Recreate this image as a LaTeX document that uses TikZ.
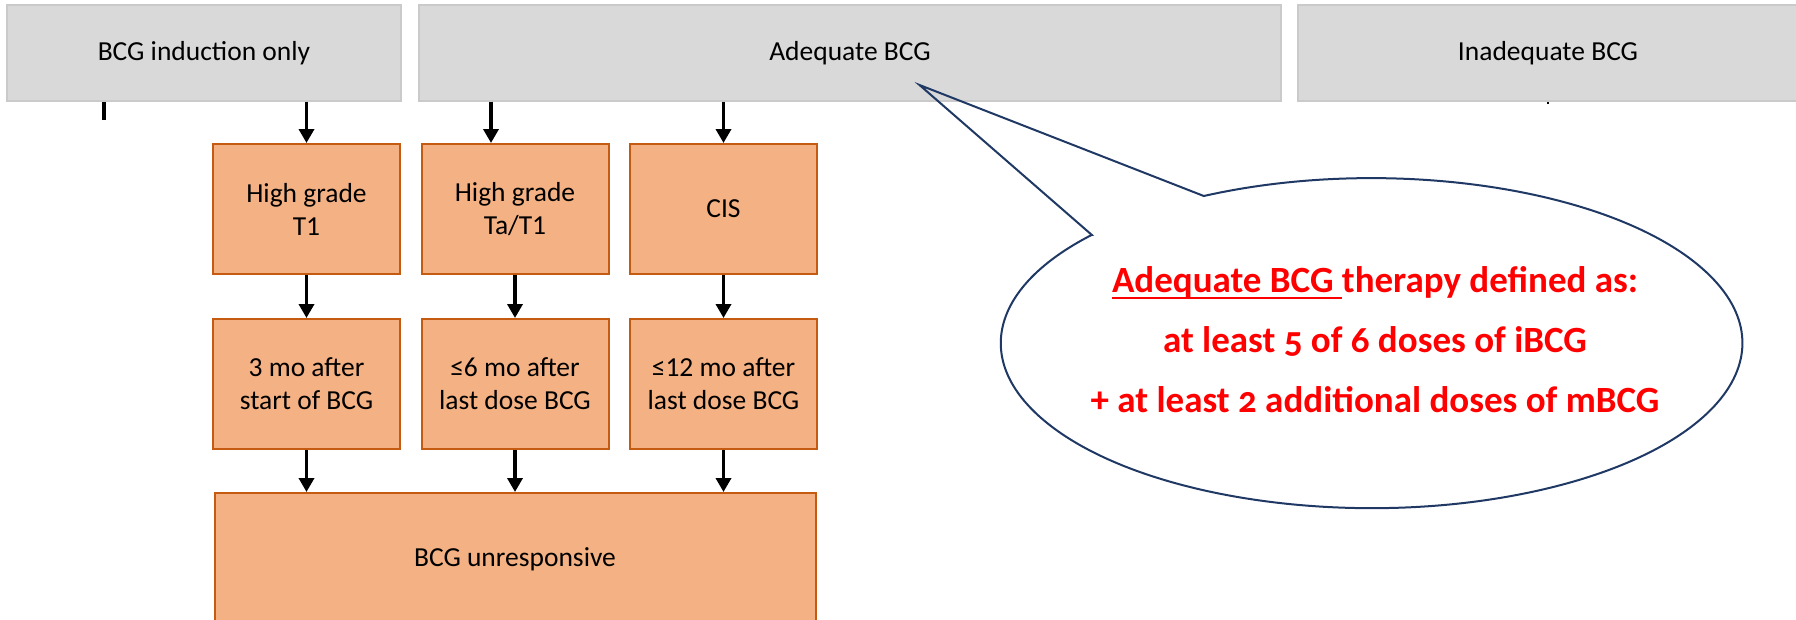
\documentclass[tikz,border=0pt]{standalone}
\usepackage{fontspec}
\setmainfont{Carlito}
\newfontfamily\notefont[Numbers=OldStyle]{Carlito}
\usetikzlibrary{positioning,arrows.meta}

\definecolor{boxgrey}{HTML}{D9D9D9}
\definecolor{greyline}{HTML}{CACACA}
\definecolor{boxorange}{HTML}{F4B183}
\definecolor{orangeline}{HTML}{C55A11}
\definecolor{navyline}{HTML}{1F3864}
\newlength{\redlinewidth}
\newcommand{\redline}[1]{\settowidth{\redlinewidth}{#1}%
  \rlap{\rule[-6pt]{\redlinewidth}{2.2pt}}#1}

\begin{document}
\begin{tikzpicture}[x=1pt,y=-1pt,->,>={Triangle[length=14pt,width=15pt]},
      line width=3.6pt,node distance=19.5pt,
      grey box/.style={rectangle,draw=greyline,line width=1.5pt,fill=boxgrey,
        minimum height=96pt,font=\fontsize{27.5}{33}\selectfont},
      orange box/.style={rectangle,draw=orangeline,line width=2pt,fill=boxorange,
        minimum width=187pt,minimum height=130pt,align=center,
        font=\fontsize{27.5}{33}\selectfont}]

    \useasboundingbox (0,0) rectangle (1796,619);

    \node[grey box,minimum width=394pt] (induction) at (204,53) {BCG induction only};
    \node[grey box,minimum width=862pt] (adequate) at (850,53) {Adequate BCG};
    \node[grey box,minimum width=500pt] (inadequate) at (1548,53) {Inadequate BCG};

    \node[orange box] (hgt1) at (306.5,209) {High grade\\T1};
    \node[orange box] (hgta) [right=of hgt1] {High grade\\Ta/T1};
    \node[orange box] (cis) [right=of hgta] {CIS};
    \node[orange box] (start3) [below=43pt of hgt1] {3 mo after\\start of BCG};
    \node[orange box] (last6) [below=43pt of hgta] {≤6 mo after\\last dose BCG};
    \node[orange box] (last12) [below=43pt of cis] {≤12 mo after\\last dose BCG};
    \node[orange box,minimum width=601pt,minimum height=132pt] (unresp)
      [below=42pt of last6] {BCG unresponsive};

    \path
    (induction.south -| hgt1) edge (hgt1)
    ([xshift=-24pt]hgta.north |- adequate.south) edge ([xshift=-24pt]hgta.north)
    (adequate.south -| cis) edge (cis)
    (hgt1) edge (start3)
    (hgta) edge (last6)
    (cis) edge (last12)
    (start3) edge (start3 |- unresp.north)
    (last6) edge (last6 |- unresp.north)
    (last12) edge (last12 |- unresp.north);

    % cut-off connectors
    \coordinate (stubend) at (104,120);
    \draw[-] (induction.south -| stubend) -- (stubend);
    \coordinate (markend) at (1548,103.5);
    \draw[-,line width=1.5pt] (inadequate.south -| markend) -- (markend);

    % speech bubble
    \coordinate (tip) at (919.5,85);
    \coordinate (taila) at (1091.9,235);
    \coordinate (tailb) at (1203.8,196);
    \draw[-,draw=navyline,line width=2pt] (taila) -- (tip) -- (tailb)
      arc[start angle=243.1,end angle=580.9,x radius=370.8,y radius=165] -- cycle;
    \node[align=center,text=red,font=\notefont\bfseries\fontsize{37}{60}\selectfont]
      (note) at (1375,340) {\redline{Adequate BCG\ }therapy defined as:\\
      at least 5 of 6 doses of iBCG\\+ at least 2 additional doses of mBCG};
  \end{tikzpicture}
\end{document}
